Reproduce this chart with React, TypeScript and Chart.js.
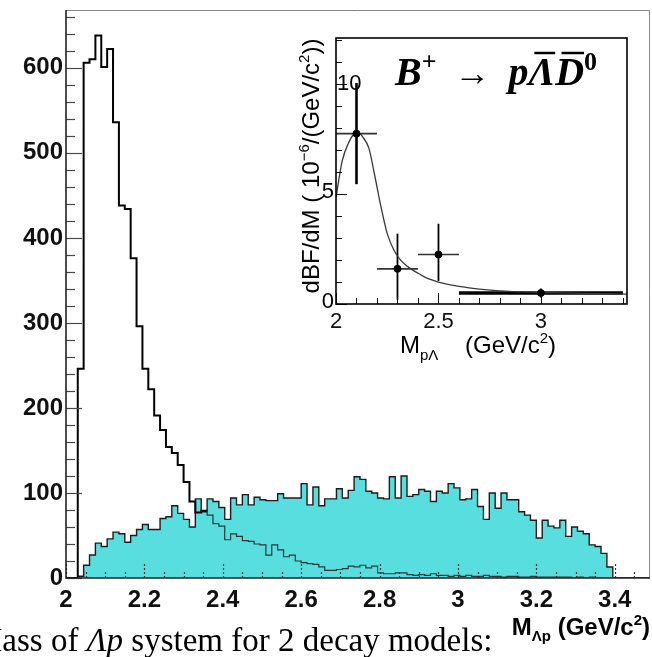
import React, { useEffect, useRef } from "react";
import { Chart, registerables } from "chart.js";

Chart.register(...registerables);

const SANS = '"Liberation Sans", Arial, sans-serif';
const SERIF = '"Liberation Serif", "Times New Roman", serif';

// Histogram binning: 100 bins of 15 MeV/c^2 starting at 2.0 GeV/c^2
const BIN_START = 2.0;
const BIN_WIDTH = 0.015;

// Threshold-enhanced decay model (black outline)
const thresholdModelCounts = [
  0, 0, 0, 246, 606, 610, 638, 601, 622, 536,
  438, 434, 376, 296, 246, 222, 191, 174, 154, 147,
  133, 113, 90, 77, 79, 74, 64, 61, 45, 52,
  49, 44, 43, 40, 39, 27, 39, 33, 25, 27,
  20, 18, 17, 16, 13, 9, 9, 10, 11, 14,
  13, 15, 12, 14, 6, 5, 5, 6, 6, 4,
  3, 4, 3, 5, 3, 3, 2, 3, 2, 3,
  2, 2, 3, 2, 2, 1, 2, 2, 1, 1,
  2, 1, 1, 1, 1, 1, 1, 0, 1, 0,
  1, 0, 0, 0, 0, 0, 0, 0, 0, 0,
];

// Phase-space decay model (cyan fill)
const phaseSpaceCounts = [
  0, 0, 0, 2, 15, 27, 41, 37, 46, 54,
  52, 42, 50, 57, 63, 57, 57, 70, 72, 85,
  76, 69, 60, 93, 78, 93, 90, 83, 69, 94,
  86, 98, 86, 95, 92, 91, 91, 99, 94, 94,
  94, 111, 86, 107, 85, 93, 93, 105, 94, 103,
  119, 116, 102, 100, 94, 93, 119, 94, 120, 96,
  98, 104, 102, 90, 102, 100, 111, 106, 92, 93,
  104, 84, 69, 100, 82, 100, 92, 92, 78, 74,
  68, 47, 68, 61, 59, 68, 49, 60, 55, 52,
  39, 37, 29, 13, 0, 0, 0, 0, 0, 0,
];

const massTickValues = [2, 2.2, 2.4, 2.6, 2.8, 3, 3.2, 3.4];
const massTickLabels = ["2", "2.2", "2.4", "2.6", "2.8", "3", "3.2", "3.4"];
const countTickValues = [0, 100, 200, 300, 400, 500, 600];
const countTickLabels = ["0", "100", "200", "300", "400", "500", "600"];

// Inset: measured differential branching fraction of B+ -> p Lambdabar D0bar
const insetMass = [2.1, 2.3, 2.5, 3.0];
const insetMassLow = [2.0, 2.2, 2.4, 2.6];
const insetMassHigh = [2.2, 2.4, 2.6, 3.4];
const insetBF = [7.75, 1.6, 2.25, 0.5];
const insetBFErrUp = [2.3, 1.6, 1.4, 0.2];
const insetBFErrDown = [2.3, 1.4, 1.2, 0.2];

// Inset: model curve
const fitMass = [2.0, 2.03, 2.06, 2.09, 2.11, 2.13, 2.16, 2.19, 2.22, 2.25, 2.28, 2.31, 2.35, 2.4, 2.45, 2.5, 2.6, 2.7, 2.8, 3.0, 3.2, 3.42];
const fitBF = [4.85, 6.5, 7.3, 7.75, 7.8, 7.6, 7.1, 5.8, 4.4, 3.2, 2.5, 2.05, 1.7, 1.4, 1.15, 1.0, 0.8, 0.68, 0.6, 0.53, 0.48, 0.45];

const insetMassTickValues = [2, 2.5, 3];
const insetMassTickLabels = ["2", "2.5", "3"];
const insetBFTickValues = [0, 5, 10];
const insetBFTickLabels = ["0", "5", "10"];

const CYAN = "rgb(88, 222, 222)";
// Where the black histogram runs beneath the cyan one it is drawn thinner
const OVERLAP_START = 2.355;

type Piece = { text: string; font: string; dy?: number; overline?: boolean };

function piecesWidth(ctx: CanvasRenderingContext2D, pieces: Piece[]) {
  let w = 0;
  for (const p of pieces) {
    ctx.font = p.font;
    w += ctx.measureText(p.text).width;
  }
  return w;
}

function drawPieces(ctx: CanvasRenderingContext2D, pieces: Piece[], x: number, y: number) {
  let cx = x;
  for (const p of pieces) {
    ctx.font = p.font;
    ctx.fillText(p.text, cx, y + (p.dy || 0));
    const w = ctx.measureText(p.text).width;
    if (p.overline) {
      const m = ctx.measureText(p.text);
      const top = y + (p.dy || 0) - m.actualBoundingBoxAscent - 6;
      ctx.save();
      ctx.lineWidth = 2.5;
      ctx.beginPath();
      ctx.moveTo(cx + w * 0.22, top);
      ctx.lineTo(cx + w * 1.0, top);
      ctx.stroke();
      ctx.restore();
    }
    cx += w;
  }
  return cx;
}

function histogramPoints(counts: number[]) {
  const pts = counts.map((c, i) => ({ x: BIN_START + i * BIN_WIDTH, y: c }));
  pts.push({ x: BIN_START + counts.length * BIN_WIDTH, y: 0 });
  return pts;
}

// Keep the plot frame exactly where the layout puts it: no extra label padding
function noScalePadding(s: any) {
  s.paddingTop = 0;
  s.paddingBottom = 0;
  s.paddingLeft = 0;
  s.paddingRight = 0;
}

const mainDecor = {
  id: "mainDecor",
  afterDatasetsDraw(chart: any) {
    const { ctx, chartArea: a, scales } = chart;
    const xs = scales.x;
    const ys = scales.y;
    ctx.save();
    // y ticks (inward): major every 100, minor every 20
    ctx.strokeStyle = "#4a4a4a";
    ctx.lineWidth = 1.2;
    for (let i = 0; i * 20 <= ys.max; i++) {
      const py = Math.round(ys.getPixelForValue(i * 20)) + 0.5;
      const len = i % 5 === 0 ? 16 : 9;
      ctx.beginPath();
      ctx.moveTo(a.left, py);
      ctx.lineTo(a.left + len, py);
      ctx.stroke();
    }
    // x ticks (inward): major every 0.2, minor every 0.05
    ctx.strokeStyle = "#333";
    ctx.setLineDash([2, 2]);
    for (let i = 0; BIN_START + i * 0.05 <= xs.max + 1e-9; i++) {
      const px = Math.round(xs.getPixelForValue(BIN_START + i * 0.05)) + 0.5;
      const len = i % 4 === 0 ? 15 : 8;
      ctx.beginPath();
      ctx.moveTo(px, a.bottom);
      ctx.lineTo(px, a.bottom - len);
      ctx.stroke();
    }
    ctx.setLineDash([]);
    // frame
    ctx.strokeStyle = "#8a8a8a";
    ctx.lineWidth = 1;
    ctx.beginPath();
    ctx.moveTo(a.left, a.top + 0.5);
    ctx.lineTo(a.right - 0.5, a.top + 0.5);
    ctx.lineTo(a.right - 0.5, a.bottom);
    ctx.stroke();
    ctx.strokeStyle = "#222";
    ctx.lineWidth = 1.6;
    ctx.beginPath();
    ctx.moveTo(a.left, a.top);
    ctx.lineTo(a.left, a.bottom);
    ctx.lineTo(a.right, a.bottom);
    ctx.stroke();
    ctx.restore();
  },
  afterDraw(chart: any) {
    const { ctx, chartArea: a } = chart;
    ctx.save();
    ctx.fillStyle = "#000";
    ctx.textBaseline = "alphabetic";
    ctx.textAlign = "left";
    // axis title
    const title: Piece[] = [
      { text: "M", font: `bold 24px ${SANS}` },
      { text: "Λp", font: `bold 15px ${SANS}`, dy: 6 },
      { text: " (GeV/c", font: `bold 24px ${SANS}` },
      { text: "2", font: `bold 15px ${SANS}`, dy: -10 },
      { text: ")", font: `bold 24px ${SANS}` },
    ];
    const tw = piecesWidth(ctx, title);
    drawPieces(ctx, title, a.right - tw, a.bottom + 57);
    // caption line below the plot
    const caption: Piece[] = [
      { text: "Mass of ", font: `33px ${SERIF}` },
      { text: "Λp", font: `italic 33px ${SERIF}` },
      { text: " system for 2 decay models:", font: `33px ${SERIF}` },
    ];
    drawPieces(ctx, caption, -27, 651);
    ctx.restore();
  },
};

const insetDecor = {
  id: "insetDecor",
  beforeDatasetsDraw(chart: any) {
    const { ctx, scales } = chart;
    const xs = scales.x;
    const ys = scales.y;
    ctx.save();
    for (let i = 0; i < insetMass.length; i++) {
      const py = ys.getPixelForValue(insetBF[i]);
      const last = i === insetMass.length - 1;
      ctx.lineWidth = last ? 3.5 : 1.6;
      ctx.strokeStyle = last ? "#000" : "#333";
      ctx.beginPath();
      ctx.moveTo(xs.getPixelForValue(insetMassLow[i]), py);
      ctx.lineTo(xs.getPixelForValue(insetMassHigh[i]), py);
      ctx.stroke();
      const px = xs.getPixelForValue(insetMass[i]);
      ctx.lineWidth = i === 0 ? 2.6 : 1.8;
      ctx.strokeStyle = "#000";
      ctx.beginPath();
      ctx.moveTo(px, ys.getPixelForValue(insetBF[i] + insetBFErrUp[i]));
      ctx.lineTo(px, ys.getPixelForValue(insetBF[i] - insetBFErrDown[i]));
      ctx.stroke();
    }
    ctx.restore();
  },
  afterDatasetsDraw(chart: any) {
    const { ctx, chartArea: a, scales } = chart;
    const xs = scales.x;
    const ys = scales.y;
    ctx.save();
    ctx.strokeStyle = "#111";
    ctx.lineWidth = 1;
    for (let i = 0; i <= Math.floor(ys.max); i++) {
      const py = Math.round(ys.getPixelForValue(i)) + 0.5;
      const len = i % 5 === 0 ? 11 : 6;
      ctx.beginPath();
      ctx.moveTo(a.left, py);
      ctx.lineTo(a.left + len, py);
      ctx.stroke();
    }
    for (let i = 0; 2 + i * 0.1 <= xs.max + 1e-9; i++) {
      const px = Math.round(xs.getPixelForValue(2 + i * 0.1)) + 0.5;
      const len = i % 5 === 0 ? 11 : 6;
      ctx.beginPath();
      ctx.moveTo(px, a.bottom);
      ctx.lineTo(px, a.bottom - len);
      ctx.stroke();
    }
    ctx.lineWidth = 1.6;
    ctx.strokeStyle = "#000";
    ctx.strokeRect(a.left, a.top, a.right - a.left, a.bottom - a.top);
    ctx.restore();
  },
  afterDraw(chart: any) {
    const { ctx, chartArea: a, scales } = chart;
    const ys = scales.y;
    ctx.save();
    ctx.fillStyle = "#000";
    ctx.strokeStyle = "#000";
    ctx.textBaseline = "middle";
    ctx.font = `22px ${SANS}`;
    // y tick labels: single digits sit left of the axis, wider ones just inside it
    insetBFTickValues.forEach((v, i) => {
      const s = insetBFTickLabels[i];
      const w = ctx.measureText(s).width;
      const py = ys.getPixelForValue(v);
      if (w > 16) {
        ctx.textAlign = "left";
        ctx.fillText(s, a.left + 1, py);
      } else {
        ctx.textAlign = "right";
        ctx.fillText(s, a.left - 2, py - 2);
      }
    });
    ctx.textAlign = "left";
    ctx.textBaseline = "alphabetic";
    // x title
    drawPieces(
      ctx,
      [
        { text: "M", font: `24px ${SANS}` },
        { text: "pΛ", font: `15px ${SANS}`, dy: 7 },
        { text: "    (GeV/c", font: `24px ${SANS}` },
        { text: "2", font: `15px ${SANS}`, dy: -10 },
        { text: ")", font: `24px ${SANS}` },
      ],
      a.left + 64,
      a.bottom + 49
    );
    // y title (rotated)
    const yTitle: Piece[] = [
      { text: "dBF/dM ( 10", font: `24px ${SANS}` },
      { text: "−6", font: `15px ${SANS}`, dy: -10 },
      { text: "/(GeV/c", font: `24px ${SANS}` },
      { text: "2", font: `15px ${SANS}`, dy: -10 },
      { text: "))", font: `24px ${SANS}` },
    ];
    const yw = piecesWidth(ctx, yTitle);
    ctx.save();
    ctx.translate(a.left - 17, (a.top + a.bottom) / 2 - 5);
    ctx.rotate(-Math.PI / 2);
    drawPieces(ctx, yTitle, -yw / 2, 0);
    ctx.restore();
    // decay label
    drawPieces(
      ctx,
      [
        { text: "B", font: `bold italic 40px ${SERIF}` },
        { text: "+", font: `bold 26px ${SERIF}`, dy: -15 },
        { text: "  →  ", font: `36px ${SERIF}` },
        { text: "p", font: `bold italic 40px ${SERIF}` },
        { text: "Λ", font: `bold italic 40px ${SERIF}`, overline: true },
        { text: "D", font: `bold italic 40px ${SERIF}`, overline: true },
        { text: "0", font: `bold 26px ${SERIF}`, dy: -15 },
      ],
      a.left + 59,
      a.top + 47
    );
    ctx.restore();
  },
};

function MainHistogram() {
  const ref = useRef<HTMLCanvasElement>(null);
  useEffect(() => {
    const chart = new Chart(ref.current as HTMLCanvasElement, {
      type: "line",
      data: {
        datasets: [
          {
            label: "threshold model",
            data: histogramPoints(thresholdModelCounts),
            stepped: "after",
            borderColor: "#000",
            borderWidth: 2,
            pointRadius: 0,
            fill: false,
            order: 1,
            segment: {
              borderWidth: (c: any) => (c.p0.parsed.x >= OVERLAP_START ? 1.2 : 2),
              borderColor: (c: any) => (c.p0.parsed.x >= OVERLAP_START ? "#263838" : "#000"),
            },
          },
          {
            label: "phase space",
            data: histogramPoints(phaseSpaceCounts),
            stepped: "after",
            borderColor: "#1c1c1c",
            borderWidth: 1.4,
            backgroundColor: CYAN,
            fill: "origin",
            pointRadius: 0,
            order: 2,
          },
        ],
      } as any,
      options: {
        animation: false,
        responsive: false,
        maintainAspectRatio: false,
        events: [],
        layout: { padding: { left: 0, right: 2, top: 10, bottom: 0 } },
        plugins: { legend: { display: false }, tooltip: { enabled: false } },
        scales: {
          x: {
            type: "linear",
            min: 2,
            max: 3.49,
            grid: { display: false, drawTicks: false },
            border: { display: false },
            afterBuildTicks: (s: any) => {
              s.ticks = massTickValues.map((v) => ({ value: v }));
            },
            afterFit: (s: any) => {
              s.height = 79;
              noScalePadding(s);
            },
            ticks: {
              autoSkip: false,
              maxRotation: 0,
              padding: 8,
              color: "#111",
              font: { family: SANS, weight: "bold", size: 24 },
              callback: (_v: any, i: number) => massTickLabels[i],
            },
          },
          y: {
            type: "linear",
            min: 0,
            max: 668,
            grid: { display: false, drawTicks: false },
            border: { display: false },
            afterBuildTicks: (s: any) => {
              s.ticks = countTickValues.map((v) => ({ value: v }));
            },
            afterFit: (s: any) => {
              s.width = 66;
              noScalePadding(s);
            },
            ticks: {
              padding: 3,
              color: "#111",
              font: { family: SANS, weight: "bold", size: 24 },
              callback: (_v: any, i: number) => countTickLabels[i],
            },
          },
        },
      } as any,
      plugins: [mainDecor],
    });
    return () => chart.destroy();
  }, []);
  return (
    <canvas
      ref={ref}
      width={652}
      height={657}
      style={{ position: "absolute", left: 0, top: 0, width: 652, height: 657 }}
    />
  );
}

function InsetPlot() {
  const ref = useRef<HTMLCanvasElement>(null);
  useEffect(() => {
    const chart = new Chart(ref.current as HTMLCanvasElement, {
      type: "line",
      data: {
        datasets: [
          {
            label: "model",
            data: fitMass.map((m, i) => ({ x: m, y: fitBF[i] })),
            borderColor: "#3a3a3a",
            borderWidth: 1.3,
            pointRadius: 0,
            cubicInterpolationMode: "monotone",
            fill: false,
            order: 2,
          },
          {
            label: "data",
            data: insetMass.map((m, i) => ({ x: m, y: insetBF[i] })),
            showLine: false,
            pointRadius: 3.5,
            pointBackgroundColor: "#000",
            pointBorderColor: "#000",
            order: 1,
          },
        ],
      } as any,
      options: {
        animation: false,
        responsive: false,
        maintainAspectRatio: false,
        events: [],
        layout: { padding: { left: 0, right: 25, top: 38, bottom: 0 } },
        plugins: { legend: { display: false }, tooltip: { enabled: false } },
        scales: {
          x: {
            type: "linear",
            min: 2,
            max: 3.42,
            grid: { display: false, drawTicks: false },
            border: { display: false },
            afterBuildTicks: (s: any) => {
              s.ticks = insetMassTickValues.map((v) => ({ value: v }));
            },
            afterFit: (s: any) => {
              s.height = 66;
              noScalePadding(s);
            },
            ticks: {
              autoSkip: false,
              maxRotation: 0,
              padding: 5,
              color: "#111",
              font: { family: SANS, size: 22 },
              callback: (_v: any, i: number) => insetMassTickLabels[i],
            },
          },
          y: {
            type: "linear",
            min: 0,
            max: 12.1,
            grid: { display: false, drawTicks: false },
            border: { display: false },
            afterFit: (s: any) => {
              s.width = 66;
              noScalePadding(s);
            },
            ticks: { display: false },
          },
        },
      } as any,
      plugins: [insetDecor],
    });
    return () => chart.destroy();
  }, []);
  return (
    <canvas
      ref={ref}
      width={382}
      height={370}
      style={{ position: "absolute", left: 270, top: 0, width: 382, height: 370 }}
    />
  );
}

export default function App() {
  return (
    <div
      style={{
        position: "absolute",
        left: 0,
        top: 0,
        width: 652,
        height: 657,
        background: "#fff",
        overflow: "hidden",
      }}
    >
      <MainHistogram />
      <InsetPlot />
    </div>
  );
}
